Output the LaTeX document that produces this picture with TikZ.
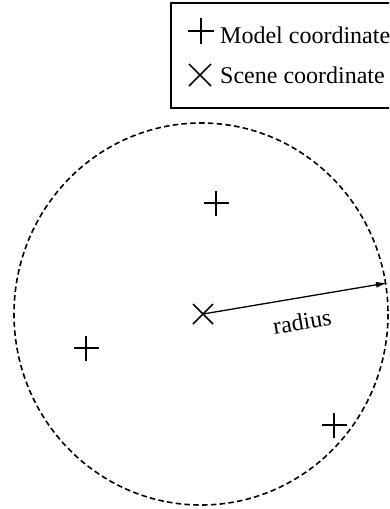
\documentclass[tikz,border=0pt]{standalone}
\usepackage{fontspec}
\setmainfont{Liberation Serif}
\usetikzlibrary{arrows.meta,calc}
\begin{document}
\begin{tikzpicture}[x=1pt,y=-1pt,
  plusmark/.style={line width=1.5pt},
  legendtext/.style={anchor=base west,inner sep=0pt,font=\fontsize{24pt}{28pt}\selectfont},
  boundary/.style={dashed,dash pattern=on 5.5pt off 3.3pt,line width=1.6pt},
  radiusarrow/.style={line width=1.3pt,-{Latex[length=11pt,width=6pt]}}]
\useasboundingbox (0,0) rectangle (389,509);
\clip (0,0) rectangle (389,509);
% legend
\draw[line width=1.5pt] (171,3) rectangle (420,108);
\coordinate (lp) at (201,31);
\coordinate (lx) at (200,75);
\draw[plusmark] ($(lp)+(-13,0)$) -- ($(lp)+(13,0)$) ($(lp)+(0,-13)$) -- ($(lp)+(0,13)$);
\node[legendtext] (lt1) at (220,43) {Model coordinate};
\node[legendtext] (lt2) at (220,83) {Scene coordinate};
% circle
\draw[boundary] (201,314) ellipse [x radius=187, y radius=191];
% model coordinates
\coordinate (m1) at (216,203);
\coordinate (m2) at (86,348);
\coordinate (m3) at (334,425);
\foreach \p in {m1,m2,m3}{
  \draw[plusmark] ($(\p)+(-12.5,0)$) -- ($(\p)+(12.5,0)$) ($(\p)+(0,-12.5)$) -- ($(\p)+(0,12.5)$);
}
% scene coordinate
\coordinate (sc) at (203,314);
\draw[plusmark] ($(sc)+(-10,-10)$) -- ($(sc)+(10,10)$) ($(sc)+(-10,10)$) -- ($(sc)+(10,-10)$);
\draw[plusmark] ($(lx)+(-11,-11)$) -- ($(lx)+(11,11)$) ($(lx)+(-11,11)$) -- ($(lx)+(11,-11)$);
% radius
\coordinate (re) at (387,283);
\draw[radiusarrow] (sc) -- (re);
\node[inner sep=0pt,rotate=9.6,font=\fontsize{24pt}{28pt}\selectfont] (rl) at (302,322) {radius};
\end{tikzpicture}
\end{document}
